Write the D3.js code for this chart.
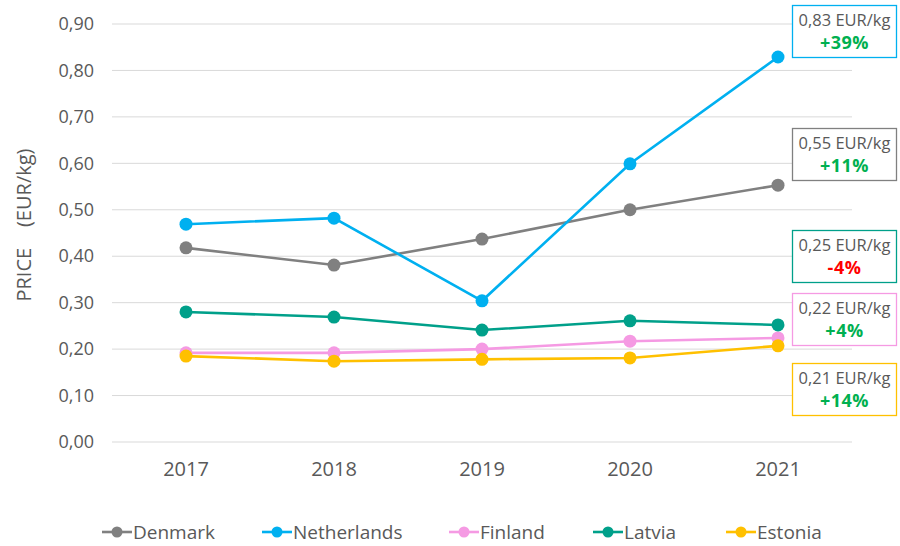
<!DOCTYPE html>
<html>
<head>
<meta charset="utf-8">
<script src="https://cdn.jsdelivr.net/npm/d3@7"></script>
<style>
  html, body { margin: 0; padding: 0; background: #fff; }
  svg { display: block; font-family: "Open Sans", "Noto Sans", sans-serif; }
</style>
</head>
<body>
<svg id="chart" width="900" height="546"></svg>
<script>
// Years on the x axis
const years = ["2017", "2018", "2019", "2020", "2021"];

// Average price per country, EUR/kg
const denmark     = [0.418, 0.381, 0.437, 0.500, 0.553];
const netherlands = [0.469, 0.482, 0.304, 0.599, 0.829];
const finland     = [0.192, 0.192, 0.200, 0.217, 0.224];
const latvia      = [0.280, 0.269, 0.241, 0.261, 0.252];
const estonia     = [0.185, 0.174, 0.178, 0.181, 0.207];

const countries = ["Denmark", "Netherlands", "Finland", "Latvia", "Estonia"];
const yTicks = [0, 0.1, 0.2, 0.3, 0.4, 0.5, 0.6, 0.7, 0.8, 0.9];

// Callout for 2021: latest price and change versus 2020
const calloutPrice  = ["0,55 EUR/kg", "0,83 EUR/kg", "0,22 EUR/kg", "0,25 EUR/kg", "0,21 EUR/kg"];
const calloutChange = ["+11%", "+39%", "+4%", "-4%", "+14%"];

const colors = {
  Denmark: "#808080",
  Netherlands: "#00b0f0",
  Finland: "#f59ae3",
  Latvia: "#00a08a",
  Estonia: "#ffc000"
};
const seriesValues = { Denmark: denmark, Netherlands: netherlands, Finland: finland, Latvia: latvia, Estonia: estonia };

const svg = d3.select("#chart");
const margin = { left: 112, right: 48, top: 24, bottom: 104 };
const width = 900, height = 546;

const x = d3.scaleBand().domain(years).range([margin.left, width - margin.right]);
const y = d3.scaleLinear().domain([0, 0.9]).range([height - margin.bottom, margin.top]);
const fmt = v => d3.format(".2f")(v).replace(".", ",");
const textColor = "#595959";

// Gridlines
svg.append("g")
  .selectAll("line")
  .data(yTicks)
  .join("line")
  .attr("x1", margin.left).attr("x2", width - margin.right)
  .attr("y1", d => y(d)).attr("y2", d => y(d))
  .attr("stroke", "#d9d9d9").attr("stroke-width", 1);

// Y axis
const yAxis = svg.append("g")
  .attr("transform", `translate(${margin.left},0)`)
  .call(d3.axisLeft(y).tickValues(yTicks).tickFormat(fmt).tickSize(0).tickPadding(18))
  .attr("font-family", null).attr("font-size", null);
yAxis.select(".domain").remove();
yAxis.selectAll("text").attr("fill", textColor).style("font-size", "18px");

// X axis
const xAxis = svg.append("g")
  .attr("transform", `translate(0,${y(0)})`)
  .call(d3.axisBottom(x).tickSize(0).tickPadding(20))
  .attr("font-family", null).attr("font-size", null);
xAxis.select(".domain").remove();
xAxis.selectAll("text").attr("fill", textColor).style("font-size", "20px");

// Y axis title
svg.append("text")
  .attr("transform", "translate(31,225) rotate(-90)")
  .attr("text-anchor", "middle")
  .attr("fill", textColor)
  .style("font-size", "20px")
  .attr("xml:space", "preserve")
  .text("PRICE    (EUR/kg)");

// Lines and markers
const line = d3.line()
  .x((d, i) => x(years[i]) + x.bandwidth() / 2)
  .y(d => y(d));

countries.forEach(c => {
  const g = svg.append("g");
  g.append("path")
    .datum(seriesValues[c])
    .attr("d", line)
    .attr("fill", "none")
    .attr("stroke", colors[c])
    .attr("stroke-width", 2.6);
  g.selectAll("circle")
    .data(seriesValues[c])
    .join("circle")
    .attr("cx", (d, i) => x(years[i]) + x.bandwidth() / 2)
    .attr("cy", d => y(d))
    .attr("r", 6.5)
    .attr("fill", colors[c]);
});

// Callout boxes at the right edge
const boxTop = { Netherlands: 5, Denmark: 128, Latvia: 230, Finland: 293, Estonia: 363 };
const boxX = 792, boxW = 104, boxH = 52;
countries.forEach((c, i) => {
  const g = svg.append("g").attr("transform", `translate(${boxX},${boxTop[c]})`);
  g.append("rect")
    .attr("x", 0.5).attr("y", 0.5)
    .attr("width", boxW).attr("height", boxH)
    .attr("fill", "#fff")
    .attr("stroke", colors[c]).attr("stroke-width", 1.3);
  g.append("text")
    .attr("x", boxW / 2 + 0.5).attr("y", 21)
    .attr("text-anchor", "middle")
    .attr("fill", textColor)
    .style("font-size", "16.5px")
    .text(calloutPrice[i]);
  const neg = calloutChange[i].startsWith("-");
  g.append("text")
    .attr("x", boxW / 2 + 0.5).attr("y", 44)
    .attr("text-anchor", "middle")
    .attr("fill", neg ? "#ff0000" : "#00b050")
    .style("font-size", "18px")
    .style("font-weight", "bold")
    .style("letter-spacing", "0.5px")
    .text(calloutChange[i]);
});

// Legend
const legendX = [102, 262, 449, 593, 726];
const legend = svg.append("g").attr("transform", "translate(0,532)");
countries.forEach((c, i) => {
  const g = legend.append("g").attr("transform", `translate(${legendX[i]},0)`);
  g.append("line").attr("x1", 0).attr("x2", 30).attr("y1", 0).attr("y2", 0)
    .attr("stroke", colors[c]).attr("stroke-width", 2.6);
  g.append("circle").attr("cx", 15).attr("cy", 0).attr("r", 5.5).attr("fill", colors[c]);
  g.append("text").attr("x", 31).attr("y", 7)
    .attr("fill", textColor)
    .style("font-size", "19px")
    .text(c);
});
</script>
</body>
</html>
